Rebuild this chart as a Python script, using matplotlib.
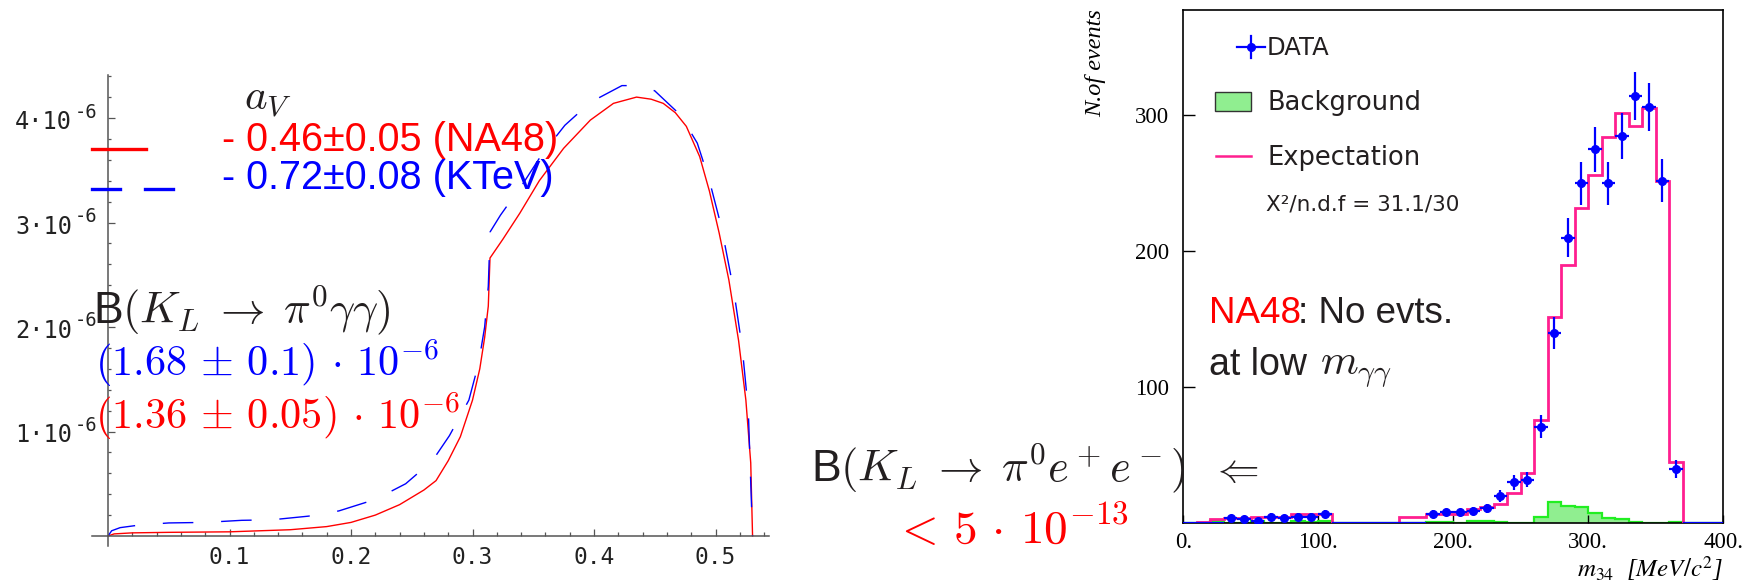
import numpy as np
import matplotlib
matplotlib.use("Agg")
import matplotlib.pyplot as plt
from matplotlib.lines import Line2D
from matplotlib.patches import Rectangle

plt.rcParams["mathtext.fontset"] = "custom"
plt.rcParams["mathtext.rm"] = "DejaVu Sans Mono"
plt.rcParams["mathtext.it"] = "DejaVu Sans Mono"
plt.rcParams["mathtext.bf"] = "DejaVu Sans Mono"

# ---------------- left panel: dB/dz for K_L -> pi0 gamma gamma ----------------
z_na48 = [0.0, 0.005, 0.02, 0.05, 0.10, 0.15, 0.18, 0.20, 0.22, 0.24, 0.26, 0.27,
          0.28, 0.29, 0.30, 0.306, 0.31, 0.313, 0.3144, 0.325, 0.339, 0.355, 0.375,
          0.397, 0.416, 0.435, 0.447, 0.457, 0.467, 0.476, 0.487, 0.495, 0.503,
          0.511, 0.519, 0.525, 0.529, 0.5305]
br_na48 = [0.0, 0.02, 0.03, 0.035, 0.04, 0.06, 0.09, 0.13, 0.20, 0.30, 0.44, 0.53,
           0.72, 0.95, 1.30, 1.60, 1.90, 2.20, 2.66, 2.84, 3.09, 3.40, 3.71,
           3.98, 4.14, 4.20, 4.18, 4.14, 4.05, 3.92, 3.63, 3.30, 2.90,
           2.45, 1.87, 1.30, 0.70, 0.0]

z_ktev = [0.0, 0.003, 0.01, 0.026, 0.05, 0.08, 0.11, 0.135, 0.165, 0.19, 0.22, 0.245,
          0.267, 0.281, 0.297, 0.305, 0.31, 0.313, 0.3145, 0.323, 0.342, 0.357, 0.376,
          0.397, 0.423, 0.438, 0.45, 0.471, 0.485, 0.495, 0.505, 0.515, 0.522,
          0.527, 0.5305]
br_ktev = [0.0, 0.05, 0.08, 0.105, 0.125, 0.13, 0.15, 0.155, 0.19, 0.24, 0.35, 0.50,
           0.72, 0.96, 1.30, 1.65, 2.00, 2.39, 2.91, 3.07, 3.38, 3.65, 3.93,
           4.15, 4.31, 4.31, 4.26, 4.03, 3.76, 3.40, 2.95, 2.35, 1.80,
           1.20, 0.0]

left_xticks = [0.1, 0.2, 0.3, 0.4, 0.5]
left_xticklabels = ["0.1", "0.2", "0.3", "0.4", "0.5"]
left_yticks = [1, 2, 3, 4]
left_ytick_mantissa = ["1·10", "2·10", "3·10", "4·10"]
left_ytick_exponent = "-6"

# ---------------- right panel: m34 spectrum ----------------
bin_edges = np.arange(0, 401, 10)
data_counts = [0, 0, 0, 4, 3, 2, 5, 4, 5, 5, 7,
               0, 0, 0, 0, 0,
               0, 0, 7, 8, 8, 9, 11, 20, 30, 32, 71, 140, 210, 250, 275, 250, 285,
               314, 306, 252, 40,
               0, 0, 0]
expectation = [0, 1, 3.5, 4, 4, 4.5, 5, 5, 7, 6.5, 6.5,
               0, 0, 0, 0, 0,
               5, 5, 6.6, 6.6, 6.6, 10.5, 12.2, 14.2, 22.5, 37, 76, 152, 190, 232,
               256, 284, 302, 292, 305, 252, 45,
               0, 0, 0]
background = [0, 0.5, 1.5, 0.5, 0.5, 1.5, 0.5, 0.5, 2, 1, 1.5,
              0, 0, 0, 0, 0,
              0.3, 0.3, 1.2, 1.2, 0.5, 2, 2, 1, 0.3, 0.3, 4.4, 15.5, 13, 11.8,
              7.3, 4.1, 3.2, 1.2, 0.5, 0.3, 0.7,
              0, 0, 0]
right_xticks = [0, 100, 200, 300, 400]
right_xticklabels = ["0.", "100.", "200.", "300.", "400."]
right_yticks = [100, 200, 300]

W, H = 1755, 587
fig = plt.figure(figsize=(W / 100, H / 100), dpi=100)
DARK = "#231f20"


def fx(px):
    return px / W


def fy(py):
    return 1 - py / H


def ftext(xpx, ypx, s, **kw):
    return fig.text(fx(xpx), fy(ypx), s, **kw)


# ---- left axes (Mathematica-style crossing axes) ----
X0, XS = 108.0, 1215.0     # pixel of z=0, pixels per unit z
Y0, YS = 536.0, 104.5      # pixel of B=0, pixels per 1e-6
ax1 = fig.add_axes([0, 0, fx(820), 1])
ax1.set_xlim((0 - X0) / XS, (820 - X0) / XS)
ax1.set_ylim((Y0 - H) / YS, Y0 / YS)
ax1.patch.set_alpha(0)
for s in ("top", "right"):
    ax1.spines[s].set_visible(False)
for s in ("left", "bottom"):
    ax1.spines[s].set_position(("data", 0))
    ax1.spines[s].set_color("#555555")
    ax1.spines[s].set_linewidth(1.1)
ax1.spines["left"].set_bounds(-0.1, 4.41)
ax1.spines["bottom"].set_bounds(-0.013, 0.544)

ax1.plot(z_na48, br_na48, color="red", lw=1.0, solid_joinstyle="round")
ax1.plot(z_ktev, br_ktev, color="blue", lw=1.0, dashes=(22, 20))

ax1.set_xticks(left_xticks, left_xticklabels)
ax1.set_xticks(np.arange(0.02, 0.545, 0.02), minor=True)
ax1.set_yticks(left_yticks, [""] * len(left_yticks))
ax1.set_yticks(np.arange(0.2, 4.41, 0.2), minor=True)
ax1.tick_params(which="both", direction="in", color="#555555", width=0.9,
                labelfontfamily="DejaVu Sans Mono", labelsize=16.5, labelcolor="#222222")
ax1.tick_params(axis="x", which="major", length=5, pad=7)
ax1.tick_params(axis="x", which="minor", length=3)
ax1.tick_params(axis="y", which="major", length=5)
ax1.tick_params(axis="y", which="minor", length=2.5)

# y tick labels written as mantissa plus raised exponent
for yv, mant in zip(left_yticks, left_ytick_mantissa):
    ypx = Y0 - yv * YS
    ftext(72, ypx + 4, mant, ha="right", va="center", fontsize=17,
          family="DejaVu Sans Mono", color="#222222")
    ftext(75, ypx - 6, left_ytick_exponent, ha="left", va="center", fontsize=13.5,
          family="DejaVu Sans Mono", color="#222222")

# legend of the left panel
fig.add_artist(Line2D([fx(92), fx(146)], [fy(149), fy(149)], color="red", lw=2.4))
fig.add_artist(Line2D([fx(92), fx(120)], [fy(189), fy(189)], color="blue", lw=2.4))
fig.add_artist(Line2D([fx(145), fx(173)], [fy(189), fy(189)], color="blue", lw=2.4))
ftext(244, 110, r"$a_V$", fontsize=31, color=DARK, math_fontfamily="cm", va="baseline")
ftext(222, 151, "- 0.46±0.05 (NA48)", fontsize=28.5, color="red",
      family="Liberation Sans", va="baseline")
ftext(222, 189, "- 0.72±0.08 (KTeV)", fontsize=28.5, color="blue",
      family="Liberation Sans", va="baseline")

ftext(93, 323, r"B$(K_L \;\rightarrow\; \pi^0\gamma\gamma)$", fontsize=32, color=DARK,
      family="Liberation Sans", math_fontfamily="cm", va="baseline")
ftext(95, 376, r"$(1.68 \,\pm\, 0.1)\,\cdot\, 10^{-6}$", fontsize=30.5, color="blue",
      math_fontfamily="cm", va="baseline")
ftext(95, 429, r"$(1.36 \,\pm\, 0.05)\,\cdot\, 10^{-6}$", fontsize=30.5, color="red",
      math_fontfamily="cm", va="baseline")

ftext(811, 481, r"B$(K_L \;\rightarrow\; \pi^0 e^+ e^-)$", fontsize=32, color=DARK,
      family="Liberation Sans", math_fontfamily="cm", va="baseline")
ftext(1234, 470, r"$\Leftarrow$", fontsize=30, color=DARK, math_fontfamily="cm",
      ha="center", va="center")
ftext(893, 543, r"$<\, 5\,\cdot\, 10^{-13}$", fontsize=34, color="red",
      math_fontfamily="cm", va="baseline")

# ---- right axes: histogram ----
L, R, T, B = 1183.3, 1723.0, 10.0, 523.3
ax2 = fig.add_axes([fx(L), fy(B), (R - L) / W, (B - T) / H])
ax2.set_xlim(0, 400)
ax2.set_ylim(0, (B - T) / 1.36)

ax2.stairs(background, bin_edges, fill=True, color="#90ee90", zorder=1)
ax2.stairs(background, bin_edges, color="#22ee22", lw=1.6, zorder=2)
ax2.stairs(expectation, bin_edges, color="#ff1f8f", lw=2.0, zorder=3)

centers = bin_edges[:-1] + 5
counts = np.array(data_counts, dtype=float)
nz = counts > 0
ax2.errorbar(centers[nz], counts[nz], xerr=5, yerr=np.sqrt(counts[nz]), fmt="o",
             color="blue", ms=5.5, elinewidth=1.6, capsize=0, zorder=4)
ax2.errorbar(centers[~nz], counts[~nz], xerr=5, fmt="none", color="blue",
             elinewidth=1.6, capsize=0, zorder=4)

for s in ax2.spines.values():
    s.set_linewidth(1.2)
    s.set_color("black")
ax2.set_xticks(right_xticks, right_xticklabels)
ax2.set_yticks(right_yticks, [str(v) for v in right_yticks])
ax2.tick_params(direction="in", labelfontfamily="Liberation Serif", labelsize=16.5,
                width=1.0)
ax2.tick_params(axis="y", length=8.5, pad=10)
ax2.tick_params(axis="x", length=6, pad=6)

ftext(1096, 9, "N.of events", rotation=90, ha="center", va="top", fontsize=17.5,
      family="Liberation Serif", style="italic")
ftext(1723, 577, r"$m_{34}$  [$MeV/c^{2}$]", ha="right", va="baseline", fontsize=18,
      family="Liberation Serif", style="italic", math_fontfamily="stix")

# legend of the histogram
ax_leg_y = 46.7
fig.add_artist(Line2D([fx(1237), fx(1265)], [fy(ax_leg_y)] * 2, color="blue", lw=1.6))
fig.add_artist(Line2D([fx(1251)] * 2, [fy(ax_leg_y - 11), fy(ax_leg_y + 11)],
                      color="blue", lw=1.6))
fig.add_artist(Line2D([fx(1251)], [fy(ax_leg_y)], color="blue", marker="o", ms=5.5))
ftext(1267, 55, "DATA", fontsize=17.5, family="DejaVu Sans", va="baseline", color=DARK)
fig.add_artist(Rectangle((fx(1215), fy(111)), fx(36), 19.3 / H, transform=fig.transFigure,
                         facecolor="#90ee90", edgecolor="#333333", lw=1.0))
ftext(1267, 110, "Background", fontsize=18.5, family="DejaVu Sans", va="baseline",
      color=DARK)
fig.add_artist(Line2D([fx(1216), fx(1251)], [fy(155.7)] * 2, color="#ff1f8f", lw=1.8))
ftext(1267, 165, "Expectation", fontsize=18.5, family="DejaVu Sans", va="baseline",
      color=DARK)
ftext(1266, 210.5, "Χ²/n.d.f = 31.1/30", fontsize=15.5, family="DejaVu Sans",
      va="baseline", color=DARK)

ftext(1209, 322.7, "NA48", fontsize=26.5, family="Liberation Sans", color="red",
      va="baseline")
ftext(1297.5, 322.7, ": No evts.", fontsize=26.5, family="Liberation Sans",
      color=DARK, va="baseline")
ftext(1209, 375, "at low", fontsize=27, family="Liberation Sans", color=DARK,
      va="baseline")
ftext(1320, 375, r"$m_{\gamma\gamma}$", fontsize=31, color=DARK, math_fontfamily="cm",
      va="baseline")

fig.savefig("out.png", dpi=100)
